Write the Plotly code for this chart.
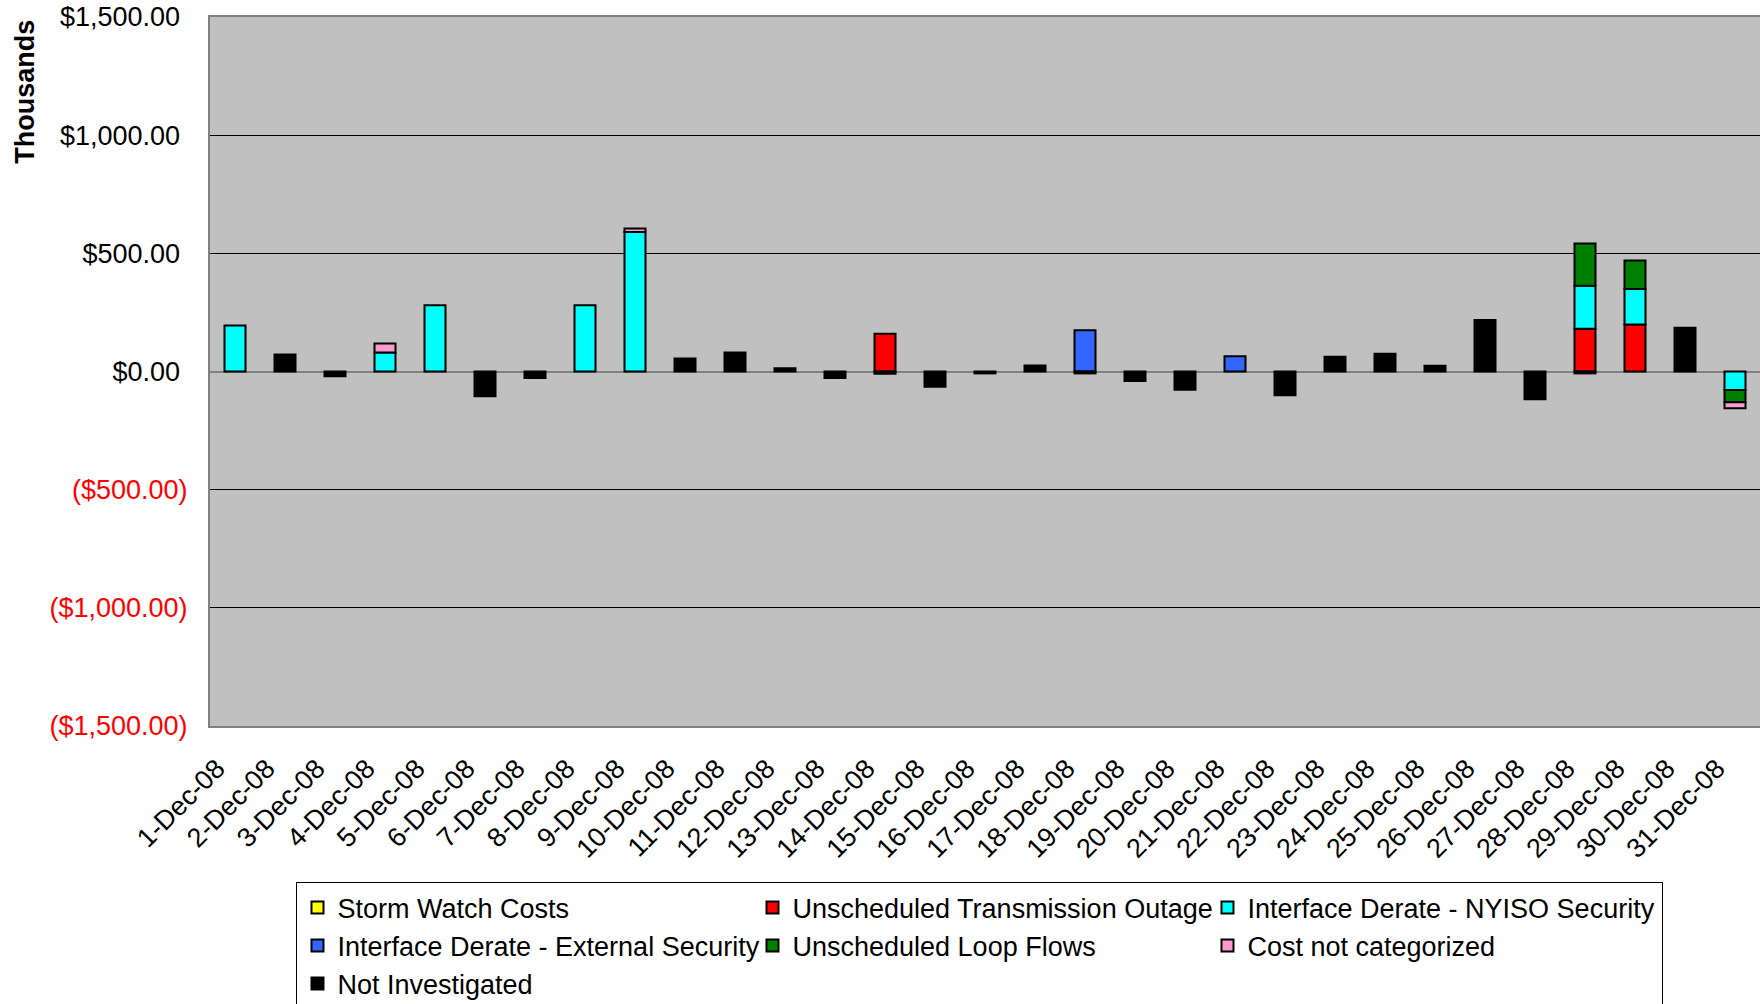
import plotly.graph_objects as go

# Daily costs for December 2008, in thousands of dollars
days = [f"{d}-Dec-08" for d in range(1, 32)]

storm_watch = [None] * 31

unscheduled_outage = [None] * 31
unscheduled_outage[13] = 160
unscheduled_outage[27] = 181
unscheduled_outage[28] = 199

nyiso_security = [None] * 31
nyiso_security[0] = 195
nyiso_security[3] = 80
nyiso_security[4] = 280
nyiso_security[7] = 280
nyiso_security[8] = 590
nyiso_security[27] = 182
nyiso_security[28] = 150
nyiso_security[30] = -78

external_security = [None] * 31
external_security[17] = 175
external_security[20] = 65

loop_flows = [None] * 31
loop_flows[27] = 179
loop_flows[28] = 121
loop_flows[30] = -52

not_categorized = [None] * 31
not_categorized[3] = 38
not_categorized[8] = 15
not_categorized[30] = -25

not_investigated = [None, 72, -20, None, None, -105, -28, None, None, 55,
                    80, 14, -27, -10, -65, -8, 25, -8, -40, -77,
                    None, -100, 62, 75, 24, 218, -117, -8, None, 185, None]

series = [
    ("Storm Watch Costs", storm_watch, "#FFFF00"),
    ("Unscheduled Transmission Outage", unscheduled_outage, "#FF0000"),
    ("Interface Derate - NYISO Security", nyiso_security, "#00FFFF"),
    ("Interface Derate - External Security", external_security, "#3366FF"),
    ("Unscheduled Loop Flows", loop_flows, "#008000"),
    ("Cost not categorized", not_categorized, "#FF99CC"),
    ("Not Investigated", not_investigated, "#000000"),
]

y_ticks = [-1500, -1000, -500, 0, 500, 1000, 1500]


def money(v):
    s = f"${abs(v):,.2f}"
    if v < 0:
        return f"<span style='color:#FF0000'>({s})</span>"
    return s + "\u00a0"


FONT = "Arial, Liberation Sans, sans-serif"
FS = 27

fig = go.Figure()
for name, vals, color in series:
    fig.add_trace(go.Bar(
        x=days, y=vals, name=name,
        marker=dict(color=color, line=dict(color="#000000", width=2)),
        width=0.42,
    ))

fig.update_layout(
    width=1760, height=1004,
    barmode="relative",
    paper_bgcolor="#FFFFFF",
    plot_bgcolor="#C0C0C0",
    font=dict(family=FONT, size=FS, color="#000000"),
    margin=dict(l=210, r=0, t=17, b=278, autoexpand=False),
    showlegend=True,
    legend=dict(
        orientation="h",
        x=0.0558, y=-0.2205, xanchor="left", yanchor="top",
        entrywidth=410,
        bordercolor="#000000", borderwidth=1,
        bgcolor="#FFFFFF",
        font=dict(family=FONT, size=FS),
        traceorder="normal",
    ),
    annotations=[dict(
        text="<b>Thousands</b>", textangle=-90,
        xref="paper", yref="paper", x=-0.119, y=0.894,
        xanchor="center", yanchor="middle", showarrow=False,
        font=dict(family=FONT, size=FS),
    )],
)

fig.update_xaxes(
    type="category",
    tickangle=-45,
    tickfont=dict(family=FONT, size=FS),
    showline=True, linecolor="#808080", linewidth=2, mirror=True,
    showgrid=False, ticks="",
    ticklabelshift=-18, ticklabelstandoff=14,
)

fig.update_yaxes(
    range=[-1500, 1500],
    tickvals=y_ticks,
    ticktext=[money(v) for v in y_ticks],
    tickfont=dict(family=FONT, size=FS),
    showgrid=True, gridcolor="#000000", gridwidth=1,
    zeroline=True, zerolinecolor="#808080", zerolinewidth=2,
    showline=True, linecolor="#808080", linewidth=2, mirror=True,
    ticks="", ticklabelstandoff=15,
)

fig.write_html("out.html")
